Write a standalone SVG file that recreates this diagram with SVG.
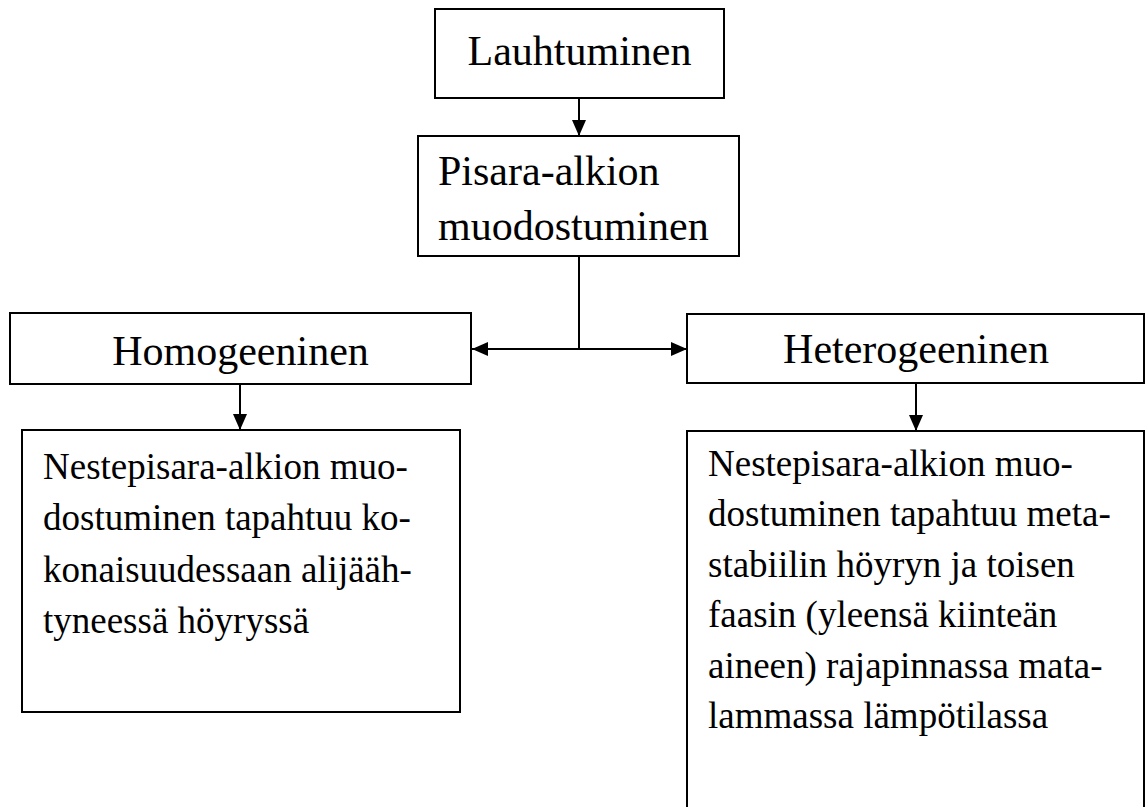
<svg xmlns="http://www.w3.org/2000/svg" width="1146" height="807" viewBox="0 0 1146 807">
  <style>
    .box { fill: #fff; stroke: #000; stroke-width: 2; }
    .head { font-family: "Liberation Serif", "Times New Roman", serif; font-size: 42px; fill: #000; }
    .body { font-family: "Liberation Serif", "Times New Roman", serif; font-size: 37px; fill: #000; }
    .link { fill: none; stroke: #000; stroke-width: 2; }
  </style>
  <defs>
    <marker id="arrow" markerWidth="8" markerHeight="7" refX="8" refY="3.5" orient="auto" markerUnits="strokeWidth">
      <path d="M0,0 L8,3.5 L0,7 Z" fill="#000"/>
    </marker>
    <marker id="arrowStart" markerWidth="8" markerHeight="7" refX="0" refY="3.5" orient="auto" markerUnits="strokeWidth">
      <path d="M8,0 L0,3.5 L8,7 Z" fill="#000"/>
    </marker>
  </defs>
  <rect width="1146" height="807" fill="#fff"/>

  <g id="connectors">
    <line class="link" x1="579" y1="98" x2="579" y2="136" marker-end="url(#arrow)"/>
    <line class="link" x1="579" y1="256" x2="579" y2="349"/>
    <line class="link" x1="472" y1="349" x2="687" y2="349" marker-start="url(#arrowStart)" marker-end="url(#arrow)"/>
    <line class="link" x1="240" y1="384" x2="240" y2="430" marker-end="url(#arrow)"/>
    <line class="link" x1="916" y1="383" x2="916" y2="431" marker-end="url(#arrow)"/>
  </g>

  <g id="lauhtuminen">
    <rect class="box" x="435" y="9" width="289" height="89"/>
    <text class="head" x="579.5" y="65" text-anchor="middle">Lauhtuminen</text>
  </g>

  <g id="pisara-alkion">
    <rect class="box" x="418" y="136" width="321" height="120"/>
    <text class="head" x="438" y="185">Pisara-alkion</text>
    <text class="head" x="438" y="240">muodostuminen</text>
  </g>

  <g id="homogeeninen">
    <rect class="box" x="10" y="313" width="461" height="71"/>
    <text class="head" x="240.5" y="365" text-anchor="middle">Homogeeninen</text>
  </g>

  <g id="heterogeeninen">
    <rect class="box" x="687" y="314" width="457" height="69"/>
    <text class="head" x="916" y="363" text-anchor="middle">Heterogeeninen</text>
  </g>

  <g id="homogeeninen-kuvaus">
    <rect class="box" x="22" y="430" width="438" height="282"/>
    <text class="body" x="43" y="479">Nestepisara-alkion muo-</text>
    <text class="body" x="43" y="530">dostuminen tapahtuu ko-</text>
    <text class="body" x="43" y="582">konaisuudessaan alijääh-</text>
    <text class="body" x="43" y="633">tyneessä höyryssä</text>
  </g>

  <g id="heterogeeninen-kuvaus">
    <rect class="box" x="687" y="431" width="457" height="390"/>
    <text class="body" x="708" y="476">Nestepisara-alkion muo-</text>
    <text class="body" x="708" y="526">dostuminen tapahtuu meta-</text>
    <text class="body" x="708" y="577">stabiilin höyryn ja toisen</text>
    <text class="body" x="708" y="627">faasin (yleensä kiinteän</text>
    <text class="body" x="708" y="678">aineen) rajapinnassa mata-</text>
    <text class="body" x="708" y="728">lammassa lämpötilassa</text>
  </g>
</svg>
